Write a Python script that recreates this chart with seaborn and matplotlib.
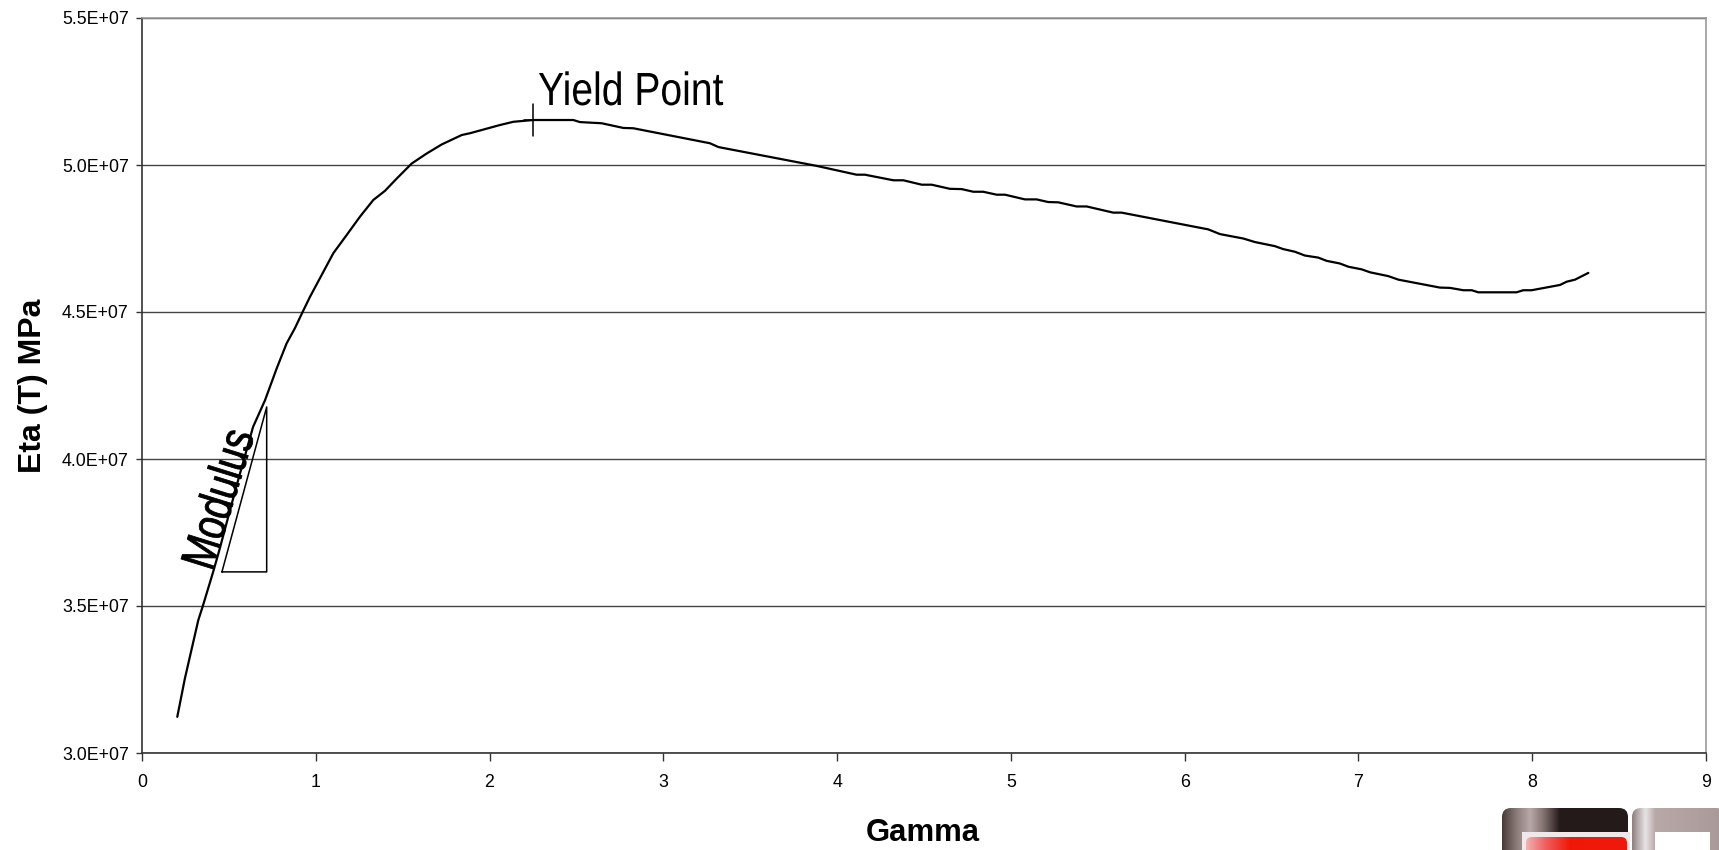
import matplotlib
matplotlib.use("Agg")
import matplotlib.pyplot as plt
from matplotlib.patches import FancyBboxPatch, Rectangle
from matplotlib.patheffects import AbstractPathEffect
from matplotlib.colors import to_rgb
from matplotlib.transforms import Affine2D
import numpy as np
import pandas as pd
import seaborn as sns

gamma = [0.203,0.247,0.324,0.349,0.410,0.445,0.54,0.639,0.708,0.775,0.832,0.880,0.925,0.967,1.034,1.101,1.178,1.254,1.331,1.398,1.466,1.552,1.638,1.725,1.84,1.887,1.955,2.06,2.137,2.252,2.482,2.52,2.645,2.77,2.827,3.268,3.317,3.882,4.112,4.16,4.324,4.381,4.487,4.544,4.649,4.717,4.784,4.841,4.918,4.966,5.081,5.148,5.215,5.273,5.378,5.436,5.589,5.637,6.136,6.203,6.337,6.404,6.519,6.567,6.634,6.692,6.769,6.817,6.893,6.942,7.019,7.067,7.172,7.23,7.469,7.527,7.604,7.652,7.69,7.91,7.948,7.996,8.16,8.198,8.246,8.323]
eta = [3.123,3.254,3.452,3.498,3.617,3.69,3.90,4.109,4.20,4.308,4.393,4.445,4.501,4.552,4.626,4.70,4.762,4.824,4.881,4.912,4.954,5.005,5.039,5.070,5.102,5.108,5.119,5.136,5.147,5.153,5.153,5.146,5.142,5.126,5.125,5.074,5.061,4.997,4.967,4.967,4.948,4.948,4.933,4.933,4.919,4.918,4.909,4.909,4.899,4.899,4.883,4.883,4.874,4.873,4.859,4.859,4.838,4.838,4.781,4.765,4.750,4.738,4.724,4.714,4.705,4.692,4.685,4.674,4.665,4.654,4.645,4.635,4.622,4.610,4.583,4.582,4.574,4.574,4.567,4.567,4.574,4.574,4.592,4.603,4.610,4.633]
triangle_x = [0.46, 0.7175, 0.7175, 0.46]
triangle_y = [3.616, 4.177, 3.616, 3.616]
yield_x = 2.25
yield_y = 5.153
xticks = list(range(10))
yticks = [3.0,3.5,4.0,4.5,5.0,5.5]


class Squeeze(AbstractPathEffect):
    """Draws the real text with its glyphs narrowed along the baseline."""
    def __init__(self, sx, stroke=0):
        super().__init__()
        self.sx = sx
        self.stroke = stroke
    def draw_path(self, renderer, gc, tpath, affine, rgbFace=None):
        gc0 = renderer.new_gc()
        gc0.copy_properties(gc)
        gc0.set_linewidth(self.stroke)
        gc0.set_foreground("black")
        renderer.draw_path(gc0, tpath, Affine2D().scale(self.sx, 1) + affine, rgbFace)
        gc0.restore()


sns.set_theme(style="white")
plt.rcParams['font.family'] = ['Liberation Sans', 'DejaVu Sans']
W, H = 1719, 850
fig = plt.figure(figsize=(W/100, H/100), dpi=100)
ax = fig.add_axes([142/W, 1-753/H, (1706-142)/W, (753-18)/H])
df = pd.DataFrame({"Gamma": gamma, "Eta": np.array(eta)*1e7})
sns.lineplot(data=df, x="Gamma", y="Eta", color="black", lw=1.6, ax=ax, sort=False, zorder=3)
ax.plot(triangle_x, np.array(triangle_y)*1e7, color="black", lw=1.1, zorder=3)
ax.plot([yield_x, yield_x], [(yield_y-0.053)*1e7, (yield_y+0.053)*1e7], color="black", lw=1.1, zorder=4)
ax.plot([yield_x-0.05, yield_x+0.05], [yield_y*1e7]*2, color="black", lw=1.1, zorder=4)
ax.set_xlim(0, 9); ax.set_ylim(3e7, 5.5e7)
ax.set_xticks(xticks); ax.set_yticks([v*1e7 for v in yticks])
ax.set_xticklabels([str(v) for v in xticks])
ax.set_yticklabels([f"{v:.1f}E+07" for v in yticks])
ax.tick_params(axis='y', length=4.5, width=1, color="#333333", labelsize=12.8, labelcolor="black", pad=5, left=True)
ax.tick_params(axis='x', length=6, width=1, color="#333333", labelsize=12.8, labelcolor="black", pad=9, bottom=True)
ax.yaxis.grid(True, color="#444444", lw=1); ax.xaxis.grid(False)
ax.set_axisbelow(True)
for s in ['left','bottom']:
    ax.spines[s].set_color("#333333"); ax.spines[s].set_linewidth(1.2)
for s in ['top','right']:
    ax.spines[s].set_color("#999999"); ax.spines[s].set_linewidth(1.2)
ax.set_xlabel(""); ax.set_ylabel("")
fig.text(923/W, 1-833/H, "Gamma", fontsize=22.4, fontweight="bold", ha="center", va="center", color="black")
fig.text(33/W, 1-386/H, "Eta (T) MPa", fontsize=23, fontweight="bold", rotation=90, ha="center", va="center", color="black")
ax.text(2.279, 5.204e7, "Yield Point", fontsize=33.5, ha="left", va="baseline", color="black",
        path_effects=[Squeeze(0.84)], zorder=5)
ax.text(0.403, 3.616e7, "Modulus", fontsize=35, rotation=72.7, rotation_mode="anchor", ha="left", va="baseline",
        color="black", path_effects=[Squeeze(0.78, 0.6)], zorder=5)

# logo fragment at lower right
lg = fig.add_axes([0,0,1,1], facecolor="none"); lg.set_axis_off()


def gradient(x0, x1, y0, y1, stops, rounding=0, z=1):
    xs = np.linspace(x0, x1, 128)
    pos = [p for p, _ in stops]
    cols = np.array([to_rgb(c) for _, c in stops])
    img = np.stack([np.interp(xs, pos, cols[:, i]) for i in range(3)], axis=-1)[None, :, :]
    im = lg.imshow(img, extent=(x0, x1, y1, y0), aspect="auto", interpolation="bilinear", zorder=z)
    patch = FancyBboxPatch((x0, y0), x1-x0, y1-y0, boxstyle=f"round,pad=0,rounding_size={rounding}",
                           fc="none", ec="none", transform=lg.transData)
    lg.add_patch(patch)
    im.set_clip_path(patch)


gradient(1502, 1628, 808, 860, [(1502,"#4a3a38"),(1516,"#8a7a78"),(1530,"#b8a8a8"),(1545,"#7a6a68"),(1560,"#241a1a"),(1628,"#241a1a")], 9, z=1)
lg.add_patch(Rectangle((1522, 832), 108, 25, fc="#efe8e8", ec="none", zorder=2))
gradient(1526, 1627, 837, 860, [(1526,"#f4b0b0"),(1545,"#f06060"),(1570,"#f01808"),(1627,"#ee1a0c")], 6, z=3)
gradient(1632, 1725, 808, 860, [(1632,"#908080"),(1645,"#e8e4e4"),(1655,"#b8a8a8"),(1725,"#a89898")], 9, z=1)
lg.add_patch(Rectangle((1655, 832), 55, 25, fc="white", ec="none", zorder=2))
lg.set_xlim(0, W); lg.set_ylim(H, 0)
fig.savefig("out.png", dpi=100)
